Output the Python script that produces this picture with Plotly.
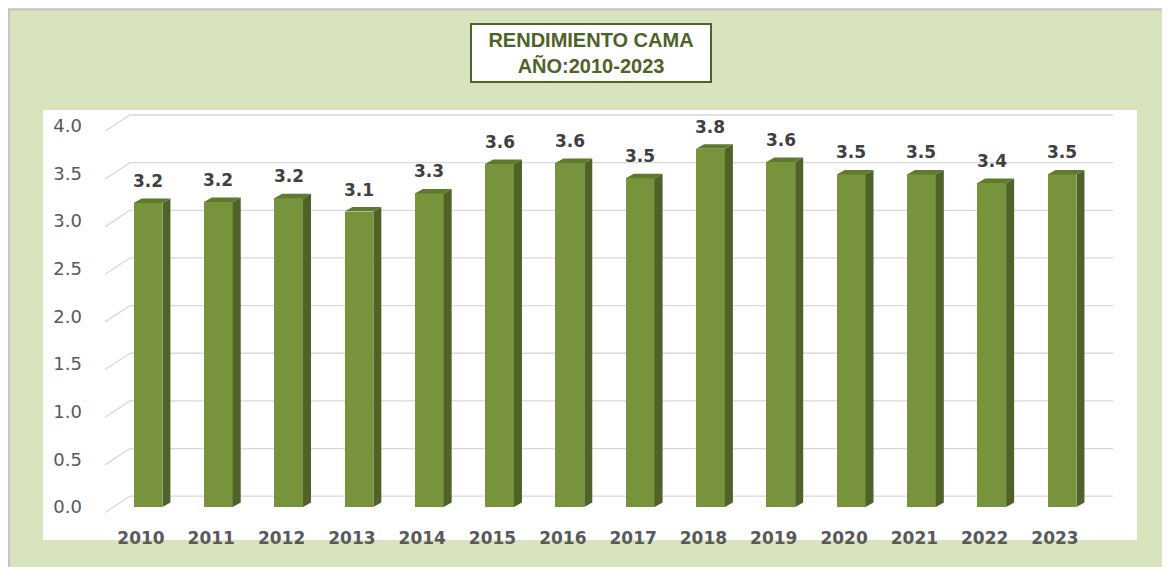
import plotly.graph_objects as go

# ---------------- data ----------------
years = ["2010", "2011", "2012", "2013", "2014", "2015", "2016",
         "2017", "2018", "2019", "2020", "2021", "2022", "2023"]
values = [3.19, 3.20, 3.24, 3.10, 3.29, 3.60, 3.61,
          3.45, 3.76, 3.62, 3.49, 3.49, 3.40, 3.49]
value_labels = ["3.2", "3.2", "3.2", "3.1", "3.3", "3.6", "3.6",
                "3.5", "3.8", "3.6", "3.5", "3.5", "3.4", "3.5"]
y_ticks = [0.0, 0.5, 1.0, 1.5, 2.0, 2.5, 3.0, 3.5, 4.0]
y_tick_text = ["0.0", "0.5", "1.0", "1.5", "2.0", "2.5", "3.0", "3.5", "4.0"]
title_lines = ["RENDIMIENTO CAMA", "AÑO:2010-2023"]

# ---------------- geometry / style ----------------
W, H = 1170, 567
OFF = 8                                   # page body margin
L, R, T, B = 95, 1137, 110, 525          # plot area in screen pixels
PX_X = 70.31                              # pixels per category step
PX_Y = 95.3                               # pixels per value unit
CX0, BASE0 = 148, 507                     # screen pixel of first category / value 0
X0, X1 = (L - CX0) / PX_X, (R - CX0) / PX_X
Y0, Y1 = (BASE0 - B) / PX_Y, (BASE0 - T) / PX_Y

BW = 0.41                    # bar front width (category units)
DX = 8 / PX_X                # depth offset x
DY = 4.5 / PX_Y              # depth offset y
BACK_DY = 10.8 / PX_Y        # back wall grid offset
FRONT_DY = -5.5 / PX_Y       # front floor edge offset
GX0, GX1 = (130 - CX0) / PX_X, (1113 - CX0) / PX_X
DIAG_X = (105 - CX0) / PX_X
LABEL_SHIFT = 0.1

FRONT = "#77933C"
SIDE = "#4F6228"
TOP = "#5E7A2F"
GRID = "#D9D9D9"
BG = "#D8E4BD"


def px2paper_x(px):
    return (px - L) / (R - L)


def px2paper_y(py):
    return (B - py) / (B - T)


xs = list(range(len(years)))

fig = go.Figure()

# front faces
fig.add_trace(go.Bar(
    x=xs, y=values, width=BW,
    marker=dict(color=FRONT, line=dict(width=0)),
    hoverinfo="skip", showlegend=False,
))

# side and top faces
side_x, side_y = [], []
top_x, top_y = [], []
for x, v in zip(xs, values):
    r = x + BW / 2
    l = x - BW / 2
    side_x += [r, r + DX, r + DX, r, r, None]
    side_y += [0, DY, v + DY, v, 0, None]
    top_x += [l, l + DX, r + DX, r, l, None]
    top_y += [v, v + DY, v + DY, v, v, None]

fig.add_trace(go.Scatter(
    x=side_x, y=side_y, mode="lines", fill="toself",
    fillcolor=SIDE, line=dict(width=0, color=SIDE),
    hoverinfo="skip", showlegend=False,
))
fig.add_trace(go.Scatter(
    x=top_x, y=top_y, mode="lines", fill="toself",
    fillcolor=TOP, line=dict(width=0, color=TOP),
    hoverinfo="skip", showlegend=False,
))

shapes = []
# white chart region
shapes.append(dict(type="rect", xref="paper", yref="paper",
                   x0=px2paper_x(43), x1=px2paper_x(1137),
                   y0=px2paper_y(540), y1=px2paper_y(110),
                   fillcolor="white", line=dict(width=0), layer="below"))
# back-wall gridlines with perspective diagonals
for t in y_ticks:
    shapes.append(dict(type="line", xref="x", yref="y",
                       x0=GX0, x1=GX1, y0=t + BACK_DY, y1=t + BACK_DY,
                       line=dict(color=GRID, width=1.3), layer="below"))
    shapes.append(dict(type="line", xref="x", yref="y",
                       x0=DIAG_X, x1=GX0, y0=t + FRONT_DY, y1=t + BACK_DY,
                       line=dict(color=GRID, width=1.3), layer="below"))
# outer frame (top and left edges)
shapes.append(dict(type="line", xref="paper", yref="paper",
                   x0=px2paper_x(8), x1=px2paper_x(W + OFF), y0=px2paper_y(9.5), y1=px2paper_y(9.5),
                   line=dict(color="#C4C4C4", width=2)))
shapes.append(dict(type="line", xref="paper", yref="paper",
                   x0=px2paper_x(9), x1=px2paper_x(9), y0=px2paper_y(9), y1=px2paper_y(H + OFF),
                   line=dict(color="#C4C4C4", width=2)))

annotations = []
for x, v, lab in zip(xs, values, value_labels):
    annotations.append(dict(
        x=x, y=v, xref="x", yref="y", text=lab, showarrow=False,
        yshift=22, xanchor="center", yanchor="middle",
        font=dict(family="DejaVu Sans", size=17, color="#404040", weight="bold"),
    ))

annotations.append(dict(
    xref="paper", yref="paper", x=px2paper_x(591), y=px2paper_y(53),
    xanchor="center", yanchor="middle", showarrow=False,
    text="<br>".join(title_lines),
    width=236, height=54, align="center",
    bgcolor="white", bordercolor="#4F6228", borderwidth=2,
    font=dict(family="Liberation Sans", size=20, color="#4F6228", weight="bold"),
))

fig.update_layout(
    width=W, height=H, autosize=False,
    margin=dict(l=L - OFF, r=W - (R - OFF), t=T - OFF, b=H - (B - OFF), pad=0),
    paper_bgcolor=BG, plot_bgcolor="white",
    shapes=shapes, annotations=annotations,
    bargap=0, showlegend=False,
    xaxis=dict(
        range=[X0, X1], tickmode="array",
        tickvals=[x - LABEL_SHIFT for x in xs], ticktext=years,
        showgrid=False, zeroline=False, showline=False, ticks="",
        ticklabelstandoff=1,
        tickfont=dict(family="DejaVu Sans", size=17, color="#595959", weight="bold"),
        fixedrange=True,
    ),
    yaxis=dict(
        range=[Y0, Y1], tickmode="array",
        tickvals=y_ticks, ticktext=y_tick_text,
        showgrid=False, zeroline=False, showline=False, ticks="",
        ticklabelstandoff=12,
        tickfont=dict(family="DejaVu Sans", size=18, color="#595959"),
        fixedrange=True,
    ),
)

fig.write_html("out.html")
